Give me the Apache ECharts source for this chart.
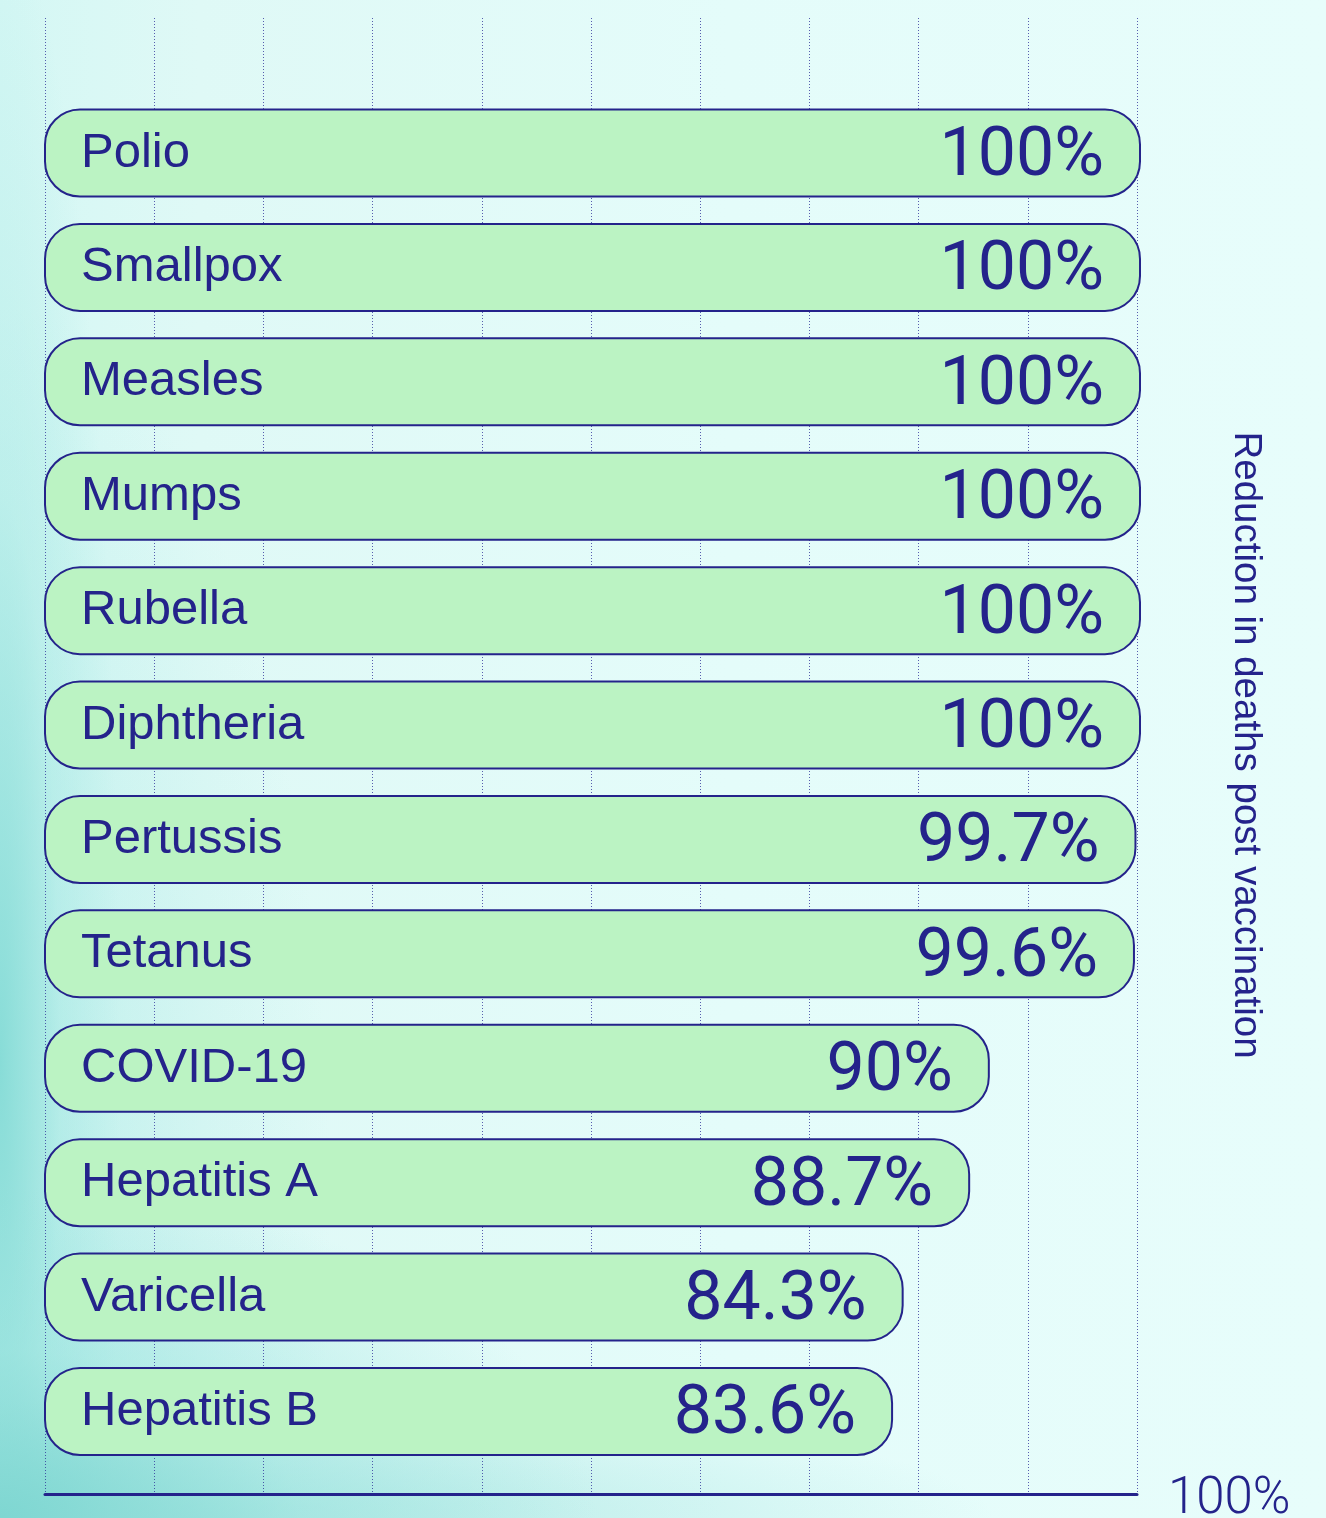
<!DOCTYPE html>
<html>
<head>
<meta charset="utf-8">
<script src="https://cdn.jsdelivr.net/npm/echarts@6/dist/echarts.min.js"></script>
<style>
  html, body { margin: 0; padding: 0; }
  body {
    width: 1326px; height: 1518px; overflow: hidden;
    background:
      radial-gradient(ellipse 45% 22% at 0% 100%, rgba(125,214,209,0.95) 0%, rgba(150,226,221,0.45) 50%, rgba(190,242,238,0) 100%),
      radial-gradient(ellipse 60% 8% at 15% 100%, rgba(140,220,215,0.6) 0%, rgba(190,242,238,0) 100%),
      radial-gradient(ellipse 9% 75% at 0% 70%, rgba(130,218,213,0.9) 0%, rgba(160,230,225,0.4) 50%, rgba(190,242,238,0) 100%),
      radial-gradient(ellipse 25% 60% at 0% 80%, rgba(160,230,225,0.5) 0%, rgba(190,242,238,0) 100%),
      linear-gradient(90deg, #d4f7f4 0%, #dff9f6 15%, #e4fcfa 55%, #e7fdfb 100%);
  }
  #chart { width: 1326px; height: 1518px; }
</style>
</head>
<body>
<div id="chart"></div>
<script>
// Reduction in deaths after vaccine introduction, by disease
const categories = ['Polio', 'Smallpox', 'Measles', 'Mumps', 'Rubella', 'Diphtheria',
                    'Pertussis', 'Tetanus', 'COVID-19', 'Hepatitis A', 'Varicella', 'Hepatitis B'];
const reductionPct = [100, 100, 100, 100, 100, 100, 99.7, 99.6, 90, 88.7, 84.3, 83.6];
const axisEndLabel = '100%';
const axisTitle = 'Reduction in deaths post vaccination';

const NAVY = '#24238b';
const BAR_FILL = '#bbf3c3';
const NUM_FONT = 'Roboto, "Liberation Sans", sans-serif';

const chart = echarts.init(document.getElementById('chart'), null, { renderer: 'canvas' });

chart.setOption({
  backgroundColor: 'transparent',
  animation: false,
  grid: [
    // frame with the dotted guide lines and the baseline
    { left: 45, right: 189, top: 18, bottom: 24, outerBoundsMode: 'none', containLabel: false },
    // pill bars
    { left: 45, right: 185, top: 95.8, bottom: 49.3, outerBoundsMode: 'none', containLabel: false }
  ],
  xAxis: [
    {
      gridIndex: 0, type: 'value', min: 0, max: 100, interval: 10,
      axisLine: { show: true, lineStyle: { color: NAVY, width: 3 } },
      axisTick: { show: false },
      axisLabel: { show: false },
      splitLine: { show: true, lineStyle: { color: 'rgba(40,40,150,0.75)', width: 1, type: [1, 2] } },
      name: '{v|' + axisEndLabel + '}',
      nameLocation: 'end',
      nameGap: 31,
      nameTextStyle: {
        verticalAlign: 'middle', align: 'left',
        rich: {
          v: {
            color: NAVY, fontSize: 51, fontFamily: NUM_FONT, fontWeight: 300,
            padding: [12, 0, 0, 0]
          }
        }
      }
    },
    {
      gridIndex: 1, type: 'value', min: 27.5, max: 100,
      show: false
    }
  ],
  yAxis: [
    {
      gridIndex: 0, type: 'value', position: 'right',
      axisLine: { show: false }, axisTick: { show: false },
      axisLabel: { show: false }, splitLine: { show: false },
      name: axisTitle,
      nameLocation: 'middle',
      nameRotate: -90,
      nameGap: 89,
      nameTextStyle: {
        color: NAVY, fontSize: 38.5, fontFamily: 'Liberation Sans',
        padding: [0, 22, 0, 0]
      }
    },
    {
      gridIndex: 1, type: 'category', data: categories, inverse: true,
      show: false
    }
  ],
  series: [
    {
      type: 'bar',
      xAxisIndex: 1, yAxisIndex: 1,
      data: reductionPct,
      barWidth: 89,
      itemStyle: { color: BAR_FILL, borderColor: NAVY, borderWidth: 2, borderRadius: 35 },
      label: {
        show: true, position: 'insideLeft', distance: 37,
        formatter: (p) => p.name,
        color: NAVY, fontSize: 49, fontFamily: 'Liberation Sans'
      },
      z: 2
    },
    {
      type: 'bar',
      xAxisIndex: 1, yAxisIndex: 1,
      data: reductionPct,
      barWidth: 89,
      barGap: '-100%',
      itemStyle: { color: 'rgba(0,0,0,0)', borderWidth: 0 },
      label: {
        show: true, position: 'insideRight', distance: 37, offset: [0, 5],
        formatter: (p) => p.value + '%',
        color: NAVY, fontSize: 68, fontFamily: NUM_FONT, fontWeight: 'normal'
      },
      silent: true,
      z: 3
    }
  ]
});
</script>
</body>
</html>
